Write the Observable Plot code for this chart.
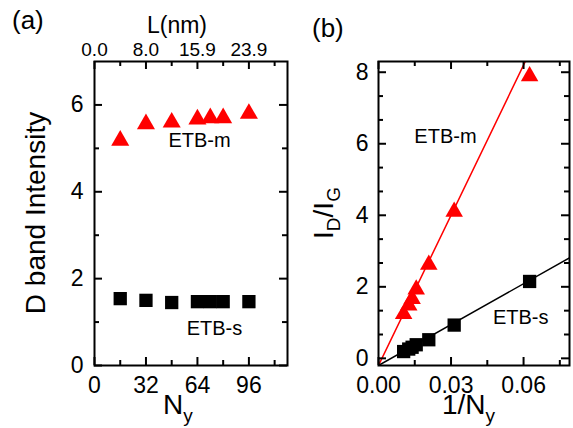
<!DOCTYPE html>
<html><head><meta charset="utf-8">
<script src="https://cdn.jsdelivr.net/npm/d3@7"></script>
<script src="https://cdn.jsdelivr.net/npm/@observablehq/plot@0.6"></script>
<style>
body{margin:0;background:#fff;}
#wrap{position:relative;width:573px;height:428px;font-family:"Liberation Sans",Arial,sans-serif;}
#wrap svg{position:absolute;top:0;overflow:visible;}
</style></head><body><div id="wrap"></div>
<script>
// ---------- data: panel (a) ----------
const Ny = [16, 32, 48, 64, 72, 80, 96];
const dBandM = [5.18, 5.56, 5.60, 5.67, 5.70, 5.70, 5.80];
const dBandS = [1.54, 1.50, 1.45, 1.47, 1.47, 1.47, 1.47];
const nyTicks = [0, 32, 64, 96];
const nyMinorTicks = [16, 48, 80, 112];
const lTickLabels = ["0.0", "8.0", "15.9", "23.9"];
const intensityTicks = [0, 2, 4, 6];
const intensityMinorTicks = [1, 3, 5];
// ---------- data: panel (b) ----------
const invNy = [0.0625, 0.0313, 0.0208, 0.0156, 0.0139, 0.0125, 0.0104];
const ratioM = [7.89, 4.10, 2.62, 1.93, 1.66, 1.48, 1.24];
const ratioS = [2.15, 0.93, 0.52, 0.38, 0.31, 0.26, 0.19];
const fitM = {intercept: -0.2, slope: 140};
const fitS = {intercept: -0.2, slope: 38.1};
const invTicks = [0, 0.03, 0.06];
const invMinorTicks = [0.015, 0.045, 0.075];
const ratioTicks = [0, 2, 4, 6, 8];
const ratioMinorTicks = [2/3, 4/3, 8/3, 10/3, 14/3, 16/3, 20/3, 22/3];

const FONT = '"Liberation Sans", Arial, sans-serif';
const H = 428;
const MAJ = 8, MIN = 5;

function frameTicks(xMaj, xMin, yMaj, yMin, fw, fh) {
  const s = {stroke: "black", strokeWidth: 2};
  const marks = [];
  for (const [vals, len] of [[xMaj, MAJ], [xMin, MIN]]) {
    marks.push(Plot.tickX(vals, {x: d => d, insetTop: fh - len, ...s}));
    marks.push(Plot.tickX(vals, {x: d => d, insetBottom: fh - len, ...s}));
  }
  for (const [vals, len] of [[yMaj, MAJ], [yMin, MIN]]) {
    marks.push(Plot.tickY(vals, {y: d => d, insetRight: fw - len, ...s}));
    marks.push(Plot.tickY(vals, {y: d => d, insetLeft: fw - len, ...s}));
  }
  return marks;
}

function addText(s, x, y, size, str, anchor = "start") {
  return s.append("text").attr("x", x).attr("y", y).attr("font-size", size)
    .attr("text-anchor", anchor).attr("fill", "black").text(str);
}

const wrap = document.getElementById("wrap");
const tickStyle = {fontSize: 23, letterSpacing: 1};

// ---------- panel (a) ----------
{
  const W = 290, m = {top: 61, right: 3, bottom: 63, left: 94};
  const fw = W - m.left - m.right, fh = H - m.top - m.bottom;
  const tM = Ny.map((n, i) => ({n, v: dBandM[i]}));
  const tS = Ny.map((n, i) => ({n, v: dBandS[i]}));
  const svg = Plot.plot({
    width: W, height: H,
    marginTop: m.top, marginRight: m.right, marginBottom: m.bottom, marginLeft: m.left,
    style: {fontFamily: FONT, fontSize: "22px", color: "black", background: "white"},
    x: {domain: [0, 120]},
    y: {domain: [0, 7]},
    marks: [
      ...frameTicks(nyTicks, nyMinorTicks, intensityTicks, intensityMinorTicks, fw, fh),
      Plot.frame({stroke: "black", strokeWidth: 2}),
      Plot.axisX({anchor: "bottom", ticks: nyTicks, tickSize: 0, tickPadding: 11, ...tickStyle, label: null,
        tickFormat: d => String(d)}),
      Plot.axisX({anchor: "top", ticks: nyTicks, tickSize: 0, tickPadding: 6, fontSize: 19, letterSpacing: 0.5, label: null,
        tickFormat: d => lTickLabels[nyTicks.indexOf(d)]}),
      Plot.axisY({anchor: "left", ticks: intensityTicks, tickSize: 0, tickPadding: 11, ...tickStyle, label: null,
        tickFormat: d => String(d)}),
      Plot.dot(tM, {x: "n", y: "v", symbol: "triangle", fill: "#ff0000", r: 6.7}),
      Plot.dot(tS, {x: "n", y: "v", symbol: "square", fill: "black", r: 7.5}),
      Plot.text(["ETB-m"], {x: 65.3, y: 5.18, text: d => d, fontSize: 20}),
      Plot.text(["ETB-s"], {x: 74.6, y: 0.85, text: d => d, fontSize: 20})
    ]
  });
  svg.style.left = "0px";
  const s = d3.select(svg);
  addText(s, 12, 29, 26, "(a)");
  addText(s, 177, 33, 23, "L(nm)", "middle");
  const nx = addText(s, 163, 414, 28, "N");
  nx.append("tspan").attr("font-size", 19).attr("dy", 8).text("y");
  s.append("text").attr("transform", "translate(45,213) rotate(-90)").attr("text-anchor", "middle")
    .attr("font-size", 28).attr("fill", "black").text("D band Intensity");
  wrap.appendChild(svg);
}

// ---------- panel (b) ----------
{
  const W = 283, m = {top: 61, right: 4, bottom: 63, left: 88};
  const fw = W - m.left - m.right, fh = H - m.top - m.bottom;
  const tM = invNy.map((x, i) => ({x, v: ratioM[i]}));
  const tS = invNy.map((x, i) => ({x, v: ratioS[i]}));
  const xMax = 0.079;
  const lineM = [0, xMax].map(x => ({x, v: fitM.intercept + fitM.slope * x}));
  const lineS = [0, xMax].map(x => ({x, v: fitS.intercept + fitS.slope * x}));
  const svg = Plot.plot({
    width: W, height: H,
    marginTop: m.top, marginRight: m.right, marginBottom: m.bottom, marginLeft: m.left,
    style: {fontFamily: FONT, fontSize: "22px", color: "black", background: "transparent"},
    x: {domain: [0, xMax]},
    y: {domain: [-0.2, 8.3]},
    marks: [
      Plot.line(lineM, {x: "x", y: "v", stroke: "#ff0000", strokeWidth: 1.5, clip: true}),
      Plot.line(lineS, {x: "x", y: "v", stroke: "black", strokeWidth: 1.5, clip: true}),
      ...frameTicks(invTicks, invMinorTicks, ratioTicks, ratioMinorTicks, fw, fh),
      Plot.frame({stroke: "black", strokeWidth: 2}),
      Plot.axisX({anchor: "bottom", ticks: invTicks, tickSize: 0, tickPadding: 11, ...tickStyle, label: null,
        tickFormat: d3.format(".2f")}),
      Plot.axisY({anchor: "left", ticks: ratioTicks, tickSize: 0, tickPadding: 10, ...tickStyle, label: null,
        tickFormat: d => String(d)}),
      Plot.dot(tM, {x: "x", y: "v", symbol: "triangle", fill: "#ff0000", r: 6.5}),
      Plot.dot(tS, {x: "x", y: "v", symbol: "square", fill: "black", r: 7.5}),
      Plot.text(["ETB-m"], {x: 0.0277, y: 6.2, text: d => d, fontSize: 20}),
      Plot.text(["ETB-s"], {x: 0.0588, y: 1.13, text: d => d, fontSize: 20})
    ]
  });
  svg.style.left = "290px";
  const s = d3.select(svg);
  addText(s, 22, 37, 26, "(b)");
  const nx = addText(s, 152, 414, 28, "1/N");
  nx.append("tspan").attr("font-size", 19).attr("dy", 8).text("y");
  const yl = s.append("text").attr("transform", "translate(43,213) rotate(-90)").attr("text-anchor", "middle")
    .attr("font-size", 28).attr("fill", "black");
  yl.append("tspan").text("I");
  yl.append("tspan").attr("font-size", 19).attr("dy", 7).text("D");
  yl.append("tspan").attr("dy", -7).text("/I");
  yl.append("tspan").attr("font-size", 19).attr("dy", 7).text("G");
  wrap.appendChild(svg);
}
</script></body></html>
